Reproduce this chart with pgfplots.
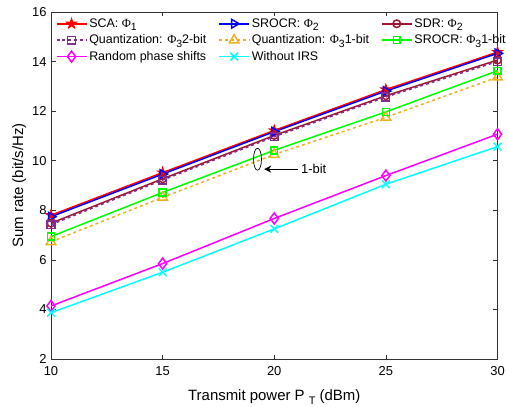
\documentclass[border=0pt]{standalone}
\usepackage{pgfplots}
\pgfplotsset{compat=1.18}
\usepackage{fontspec}
\setmainfont{Liberation Sans}
\newfontfamily\phifont{Liberation Serif}
\newcommand\Ph[1]{{\phifont Φ}\raisebox{-0.5ex}{\fontsize{10.5}{10.5}\selectfont #1}}
\usetikzlibrary{arrows.meta}
\definecolor{mred}{rgb}{1,0,0}
\definecolor{mblue}{rgb}{0,0,1}
\definecolor{sdr}{rgb}{0.635,0.078,0.184}
\definecolor{mpurple}{rgb}{0.494,0.184,0.556}
\definecolor{morange}{rgb}{0.929,0.694,0.125}
\definecolor{mgreen}{rgb}{0,1,0}
\definecolor{mmag}{rgb}{1,0,1}
\definecolor{mcyan}{rgb}{0,1,1}
\pgfdeclareplotmark{pentagram}{%
  \pgfpathmoveto{\pgfpointpolar{90}{1.3\pgfplotmarksize}}%
  \pgfpathlineto{\pgfpointpolar{126}{0.5\pgfplotmarksize}}%
  \pgfpathlineto{\pgfpointpolar{162}{1.3\pgfplotmarksize}}%
  \pgfpathlineto{\pgfpointpolar{198}{0.5\pgfplotmarksize}}%
  \pgfpathlineto{\pgfpointpolar{234}{1.3\pgfplotmarksize}}%
  \pgfpathlineto{\pgfpointpolar{270}{0.5\pgfplotmarksize}}%
  \pgfpathlineto{\pgfpointpolar{306}{1.3\pgfplotmarksize}}%
  \pgfpathlineto{\pgfpointpolar{342}{0.5\pgfplotmarksize}}%
  \pgfpathlineto{\pgfpointpolar{18}{1.3\pgfplotmarksize}}%
  \pgfpathlineto{\pgfpointpolar{54}{0.5\pgfplotmarksize}}%
  \pgfpathclose\pgfusepathqfillstroke}
\begin{document}
\begin{tikzpicture}
\begin{axis}[
  name=ax,
  scale only axis,
  width=446.5bp, height=347bp,
  xmin=10, xmax=30, ymin=2, ymax=16,
  xtick={10,15,20,25,30}, ytick={2,4,...,16},
  tick align=inside,
  major tick length=4.5bp,
  axis line style={black!80, line width=0.6pt},
  every tick/.style={black!80, line width=0.6pt},
  /pgf/number format/assume math mode=true,
  tick label style={font=\fontsize{13}{15}\selectfont},
  xticklabel style={yshift=-4bp},
  yticklabel style={xshift=-1bp},
  label style={font=\fontsize{15}{17}\selectfont},
  xlabel={Transmit power P \raisebox{-0.5ex}{\fontsize{11}{11}\selectfont T} (dBm)},
  ylabel={Sum rate (bit/s/Hz)},
  xlabel style={yshift=-7bp},
  ylabel style={yshift=-1bp},
  clip=false,
  legend columns=3,
  legend cell align=left,
  legend style={draw=none, fill=none, at={(0.008,0.99)}, anchor=north west,
    font=\fontsize{12.5}{13.5}\selectfont, row sep=2bp, inner sep=1bp,
    /tikz/every even column/.append style={column sep=10bp}},
  legend image code/.code={\draw[mark repeat=2,mark phase=2] plot coordinates {(0bp,0bp) (15bp,0bp) (30bp,0bp)};},
  every axis plot/.append style={line width=1.5pt},
]
\addplot[color=mred, mark=pentagram, mark size=4pt, mark options={solid, fill=mred, line width=1pt}] coordinates {(10,7.8) (15,9.52) (20,11.22) (25,12.87) (30,14.38)};
\addlegendentry{SCA: \Ph{1}}
\addplot[color=mblue, mark=triangle, mark size=5pt, mark options={solid, rotate=-90, fill=none}] coordinates {(10,7.74) (15,9.46) (20,11.17) (25,12.81) (30,14.33)};
\addlegendentry{SROCR: \Ph{2}}
\addplot[color=sdr, mark=o, mark size=3.8pt, mark options={solid}] coordinates {(10,7.48) (15,9.27) (20,11.02) (25,12.62) (30,14.06)};
\addlegendentry{SDR: \Ph{2}}
\addplot[color=mpurple, dashed, mark=square, mark size=3.8pt, mark options={solid}] coordinates {(10,7.42) (15,9.22) (20,10.97) (25,12.57) (30,14.0)};
\addlegendentry{Quantization: \Ph{3}2-bit}
\addplot[color=morange, dashed, mark=triangle, mark size=5.5pt, mark options={solid}] coordinates {(10,6.73) (15,8.52) (20,10.25) (25,11.75) (30,13.37)};
\addlegendentry{Quantization: \Ph{3}1-bit}
\addplot[color=mgreen, mark=square, mark size=3.5pt, mark options={solid}] coordinates {(10,6.94) (15,8.72) (20,10.42) (25,11.97) (30,13.63)};
\addlegendentry{SROCR: \Ph{3}1-bit}
\addplot[color=mmag, mark=diamond, mark size=5.5pt, mark options={solid}] coordinates {(10,4.14) (15,5.85) (20,7.67) (25,9.4) (30,11.07)};
\addlegendentry{Random phase shifts}
\addplot[color=mcyan, mark=x, mark size=5.5pt, mark options={solid}] coordinates {(10,3.87) (15,5.5) (20,7.25) (25,9.05) (30,10.57)};
\addlegendentry{Without IRS}
\draw[black, line width=0.7pt] (axis cs:19.25,10.06) ellipse [x radius=4bp, y radius=11bp];
\draw[black, line width=0.9pt, -{Stealth[length=7bp,width=7bp]}] (axis cs:21.05,9.66) -- (axis cs:19.55,9.66);
\node[anchor=west, font=\fontsize{13}{15}\selectfont, inner sep=1bp] at (axis cs:21.15,9.66) {1-bit};
\end{axis}
\pgfresetboundingbox
\path[use as bounding box] ([shift={(-51bp,-48bp)}]ax.south west) rectangle ([shift={(9.5bp,12bp)}]ax.north east);
\end{tikzpicture}
\end{document}
